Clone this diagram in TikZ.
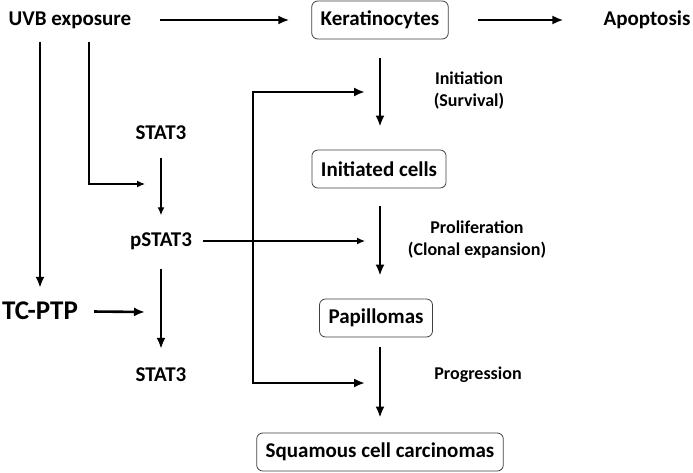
\documentclass[tikz,border=0pt]{standalone}
\usepackage{fontspec}
\setmainfont{Carlito}
\usetikzlibrary{arrows.meta,positioning}

\begin{document}
\begin{tikzpicture}[x=1pt,y=-1pt,
        every node/.style={font=\bfseries\fontsize{21}{25}\selectfont,inner sep=2pt},
        box/.style={draw=black!75,line width=0.8pt,rounded corners=6pt,minimum height=38pt,inner xsep=9pt},
        lbl/.style={font=\bfseries\fontsize{18}{22}\selectfont,align=center},
        thinarr/.style={-{Latex[length=8pt,width=7pt]},line width=1.3pt},
        thickarr/.style={-{Latex[length=11pt,width=9pt]},line width=2.6pt}]
   \useasboundingbox (0,0) rectangle (693,472);

   % main column
   \node[box] (ker) at (380,20) {Keratinocytes};
   \node[box] (init) at (379,169) {Initiated cells};
   \node[box] (pap) at (376,318) {Papillomas};
   \node[box] (scc) at (380,452) {Squamous cell carcinomas};
   \node (apo) at (647,20) {Apoptosis};
   \node (uvb) at (70,20) {UVB exposure};

   \node[lbl] (l1) at (469,91) {Initiation\\(Survival)};
   \node[lbl] (l2) at (477,240) {Proliferation\\(Clonal expansion)};
   \node[lbl] (l3) at (478,375) {Progression};

   % STAT3 side
   \node (s1) at (161,133) {STAT3};
   \node (ps) at (161,241) {pSTAT3};
   \node (s2) at (161,375) {STAT3};
   \node[font=\bfseries\fontsize{27}{32}\selectfont,inner sep=0pt] (tc) at (40,311) {TC-PTP};

   \coordinate (b1) at (89,184);
   \coordinate (b1e) at (145,184);
   \coordinate (tce) at (145,312);
   \coordinate (pse) at (365,241);
   \coordinate (k1) at (253,92);
   \coordinate (k1e) at (365,92);
   \coordinate (k2) at (253,383);
   \coordinate (k2e) at (365,383);

   \draw[thickarr,shorten <=27pt,shorten >=22pt] (uvb) -- (ker);
   \draw[thickarr,shorten <=29pt,shorten >=38pt] (ker) -- (apo);
   \draw[thickarr,shorten <=19pt,shorten >=23pt] (ker) -- (ker |- init.north);
   \draw[thickarr,shorten <=18pt,shorten >=23pt] (init.south -| ker) -- (pap.north -| ker);
   \draw[thickarr,shorten <=10pt,shorten >=15pt] (pap.south -| ker) -- (scc);

   \draw[thickarr] ([yshift=-11pt]uvb.south -| tc) -- ([yshift=14pt]tc.north);
   \draw[thinarr] ([yshift=-11pt]uvb.south -| b1) -- (b1) -- (b1e);
   \draw[thinarr,shorten <=16pt,shorten >=15pt] (s1) -- (ps);
   \draw[thinarr] (ps.east) ++(9pt,0) -- (pse);
   \draw[thickarr,shorten <=17pt,shorten >=17pt] (ps) -- (s2);
   \draw[thickarr,shorten <=16pt] (tc) -- (tce);
   \draw[thickarr,{Latex[length=11pt,width=9pt]}-{Latex[length=11pt,width=9pt]}] (k1e) -- (k1) -- (k2) -- (k2e);

\end{tikzpicture}
\end{document}
